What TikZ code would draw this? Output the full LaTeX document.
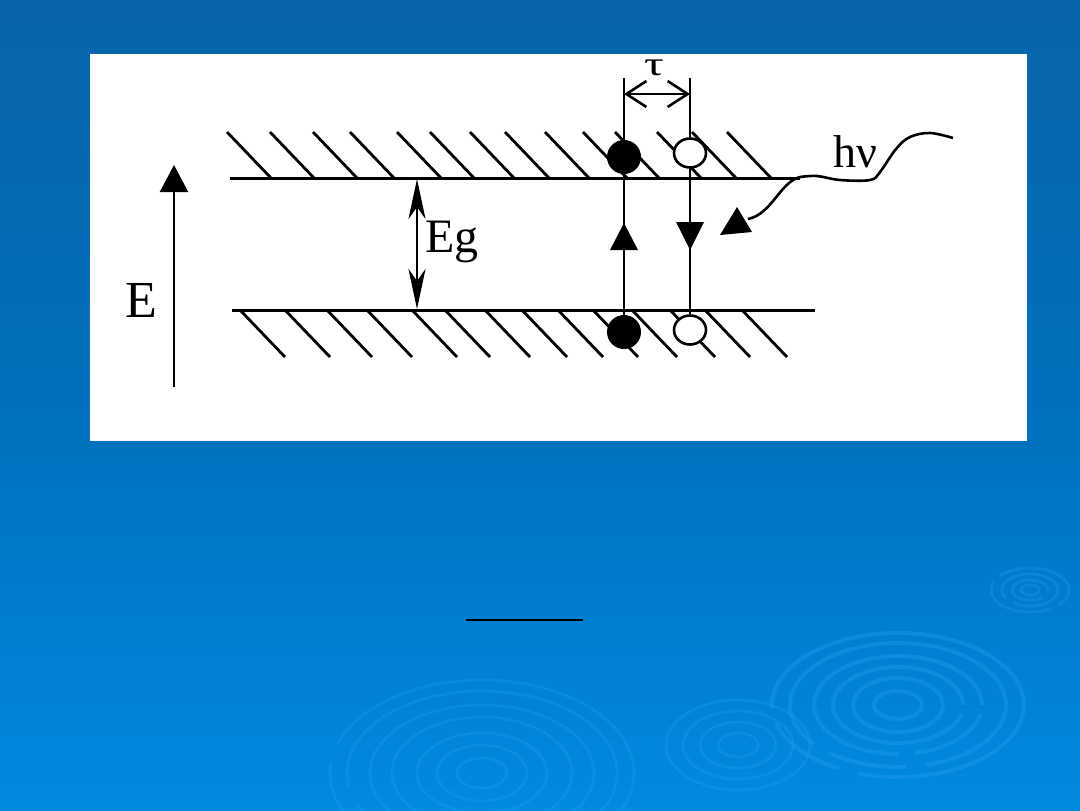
\documentclass[tikz,border=0pt]{standalone}
\usepackage{fontspec}
\setmainfont{Liberation Serif}
\usetikzlibrary{arrows.meta,shapes.geometric}
\definecolor{bgtop}{RGB}{8,100,170}
\definecolor{bgmid}{RGB}{0,112,188}
\definecolor{bgbot}{RGB}{0,138,224}
\definecolor{ripple}{RGB}{40,160,240}
\tikzset{
  band/.style={line width=1.5pt},
  hatch/.style={line width=1.4pt},
  rip/.style={draw=ripple, opacity=0.35, line width=2pt},
  ripthin/.style={draw=ripple, opacity=0.28, line width=1.4pt},
  filledc/.style={circle, fill=black, draw=black, line width=1pt, minimum size=16pt, inner sep=0pt},
  openc/.style={ellipse, fill=white, draw=black, line width=1.3pt, minimum width=16pt, minimum height=14.5pt, inner sep=0pt},
  vline/.style={line width=1.4pt},
  lbl/.style={inner sep=0pt, font=\fontsize{24}{28}\selectfont},
}
\begin{document}
\begin{tikzpicture}[x=0.5pt,y=-0.5pt]
\useasboundingbox (0,0) rectangle (1080,810);
% background
\shade[top color=bgtop, bottom color=bgbot, middle color=bgmid] (0,0) rectangle (1080,810);
% ripples
\foreach \rx/\ry in {126/72,108/62,84/49,65/38,45/27,24/14}{
  \draw[rip, dash pattern=on 160pt off 8pt on 40pt off 10pt] (898,705) ellipse ({\rx*0.5pt} and {\ry*0.5pt});
}
\foreach \rx/\ry in {39/22,28/16,18/10,9/5}{
  \draw[ripthin, dash pattern=on 40pt off 4pt] (1030,590) ellipse ({\rx*0.5pt} and {\ry*0.5pt});
}
\foreach \rx/\ry in {72/45,55/34,38/23,20/12}{
  \draw[ripthin] (738,745) ellipse ({\rx*0.5pt} and {\ry*0.5pt});
}
\foreach \rx/\ry in {152/93,135/82,112/68,90/56,65/40,45/28,25/15}{
  \draw[ripthin, dash pattern=on 180pt off 10pt on 50pt off 8pt] (482,773) ellipse ({\rx*0.5pt} and {\ry*0.5pt});
}
% white panel
\fill[white] (90,54) rectangle (1027,441);
% underline
\draw[line width=1.3pt] (466,620) -- (583,620);

% bands
\coordinate (cbL) at (230,178);
\coordinate (cbR) at (800,178);
\coordinate (vbL) at (232,310);
\coordinate (vbR) at (815,310);
\draw[band] (cbL) -- (cbR);
\draw[band] (vbL) -- (vbR);
% top hatches
\foreach \x in {227,270,313,350,397,430,470,505,545,583,615,657,692,727}{
  \draw[hatch] (\x,132) -- ++(44,46);
}
% bottom hatches
\foreach \x in {240,285,327,367,412,445,485,522,558,593,632,670,705,742}{
  \draw[hatch] (\x,310) -- ++(45,47);
}

% carriers
\node[filledc] (e1) at (624,157) {};
\node[openc] (h1) at (690,153) {};
\node[filledc] (e0) at (624,332) {};
\node[openc] (h0) at (690,330) {};

% vertical transition lines
\coordinate (tL) at (624,78);
\coordinate (tR) at (690,78);
\coordinate (tauL) at (624,94);
\coordinate (tauR) at (690,94);
\draw[vline] (tL) -- (e1.north);
\draw[vline] (e1.south) -- (e0.north);
\draw[vline] (tR) -- (h1.north);
\draw[vline] (h1.south) -- (h0.north);
% arrow marks
\fill (624,223) -- (638,250) -- (610,250) -- cycle;
\fill (676,222) -- (704,222) -- (690,250) -- cycle;

% tau dimension
\draw[line width=1.3pt, {Straight Barb[length=10pt,width=13pt]}-{Straight Barb[length=10pt,width=13pt]}] (tauL) -- (tauR);
\node[inner sep=0pt, anchor=base, font=\fontsize{17}{20}\selectfont] (tau) at (654,75) {\scalebox{1.45}[1]{τ}};

% Eg arrow
\coordinate (egT) at (417,179);
\coordinate (egB) at (417,309);
\draw[line width=1.3pt, {Stealth[length=20pt,width=8.5pt,inset=6pt]}-{Stealth[length=20pt,width=8.5pt,inset=6pt]}] (egT) -- (egB);
\node[lbl, anchor=base west] (eg) at (425,252) {Eg};

% E axis
\coordinate (eaB) at (174,387);
\coordinate (eaT) at (174,165);
\draw[line width=1.2pt, -{Triangle[length=13.5pt,width=14pt]}] (eaB) -- (eaT);
\node[lbl, anchor=base, font=\fontsize{26}{30}\selectfont] (E) at (141,317) {E};

% photon
\coordinate (ph0) at (800,177);
\coordinate (phA) at (748,219);
\draw[line width=1.3pt] plot[smooth, tension=0.6] coordinates {(ph0) (817,176) (840,180) (870,180) (880,172) (896,149) (910,137) (930,133) (953,138)};
\draw[line width=1.3pt] (ph0) .. controls (780,182) and (772,214) .. (phA);
\fill (720,235) -- (737,207) -- (752,232) -- cycle;
\node[lbl, anchor=base west, font=\fontsize{23}{26}\selectfont] (hv) at (833,167) {hν};
\end{tikzpicture}
\end{document}
